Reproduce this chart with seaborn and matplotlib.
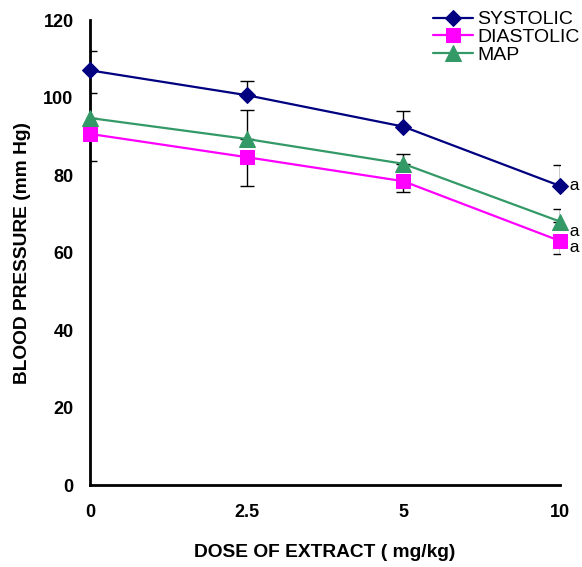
import numpy as np
import pandas as pd
import matplotlib
matplotlib.use("Agg")
import matplotlib.pyplot as plt
import seaborn as sns

# ===== 数据 =====
doses = ["0", "2.5", "5", "10"]
systolic = [107.0, 100.6, 92.5, 77.2]
systolic_err = [4.9, 3.7, 3.9, 5.4]
diastolic = [90.6, 84.6, 78.4, 63.0]
diastolic_err = [7.0, 7.5, 2.9, 3.4]
map_vals = [94.7, 89.3, 82.9, 68.0]
map_err = [6.5, 7.5, 2.6, 3.2]
sig_labels = ["a", "a", "a"]

sns.set_style("white")
plt.rcParams['font.family'] = ['Liberation Sans', 'DejaVu Sans']
plt.rcParams['text.color'] = 'black'
plt.rcParams['axes.labelcolor'] = 'black'

pos = np.arange(len(doses))
series = [
    ("SYSTOLIC", systolic, systolic_err, "#000080", "D", 8.5, "up"),
    ("DIASTOLIC", diastolic, diastolic_err, "#FF00FF", "s", 10, "down"),
    ("MAP", map_vals, map_err, "#339966", "^", 11, "up"),
]

fig = plt.figure(figsize=(5.82, 5.67), dpi=100)
ax = fig.add_axes([0.155, 0.1446, 0.807, 0.8201])

for name, vals, err, color, marker, ms, direction in series:
    df = pd.DataFrame({"pos": pos, "value": vals})
    if direction == "up":
        yerr = [np.zeros(len(err)), err]
    else:
        yerr = [err, np.zeros(len(err))]
    ax.errorbar(pos, vals, yerr=yerr, fmt="none", ecolor="black",
                elinewidth=1, capsize=5, capthick=1, zorder=2)
    sns.lineplot(data=df, x="pos", y="value", ax=ax, color=color, marker=marker,
                 markersize=ms, markeredgecolor=color, linewidth=1.6,
                 label=name, zorder=3, clip_on=False)

# 显著性标记
ax.text(pos[-1], systolic[-1], "  " + sig_labels[0], va="center", ha="left", fontsize=12.5)
ax.text(pos[-1], map_vals[-1] - 2.7, "  " + sig_labels[1], va="center", ha="left", fontsize=12.5)
ax.text(pos[-1], diastolic[-1] - 1.6, "  " + sig_labels[2], va="center", ha="left", fontsize=12.5)

ax.set_xlim(pos[0], pos[-1])
ax.set_ylim(0, 120)
ax.set_yticks(np.arange(0, 121, 20))
ax.set_xticks(pos)
ax.set_xticklabels(doses)
ax.tick_params(axis="both", direction="out", length=6, width=1.5, labelsize=13,
               colors="black", pad=8)
ax.tick_params(axis="y", pad=6)
for lab in ax.get_xticklabels() + ax.get_yticklabels():
    lab.set_fontweight("bold")

for side in ["top", "right"]:
    ax.spines[side].set_visible(False)
for side in ["left", "bottom"]:
    ax.spines[side].set_linewidth(2)
    ax.spines[side].set_color("black")

ax.set_xlabel("DOSE OF EXTRACT ( mg/kg)", fontsize=13.8, fontweight="bold", labelpad=16)
ax.set_ylabel("BLOOD PRESSURE (mm Hg)", fontsize=13.8, fontweight="bold", labelpad=9)

handles, labels = ax.get_legend_handles_labels()
ax.get_legend().remove()
fig.legend(handles, labels, loc="upper left", bbox_to_anchor=(0.72, 1.005),
           frameon=False, fontsize=14, handlelength=2.1, handletextpad=0.2,
           labelspacing=0.0, borderpad=0.2)

plt.savefig("out.png", dpi=100)
plt.close()
